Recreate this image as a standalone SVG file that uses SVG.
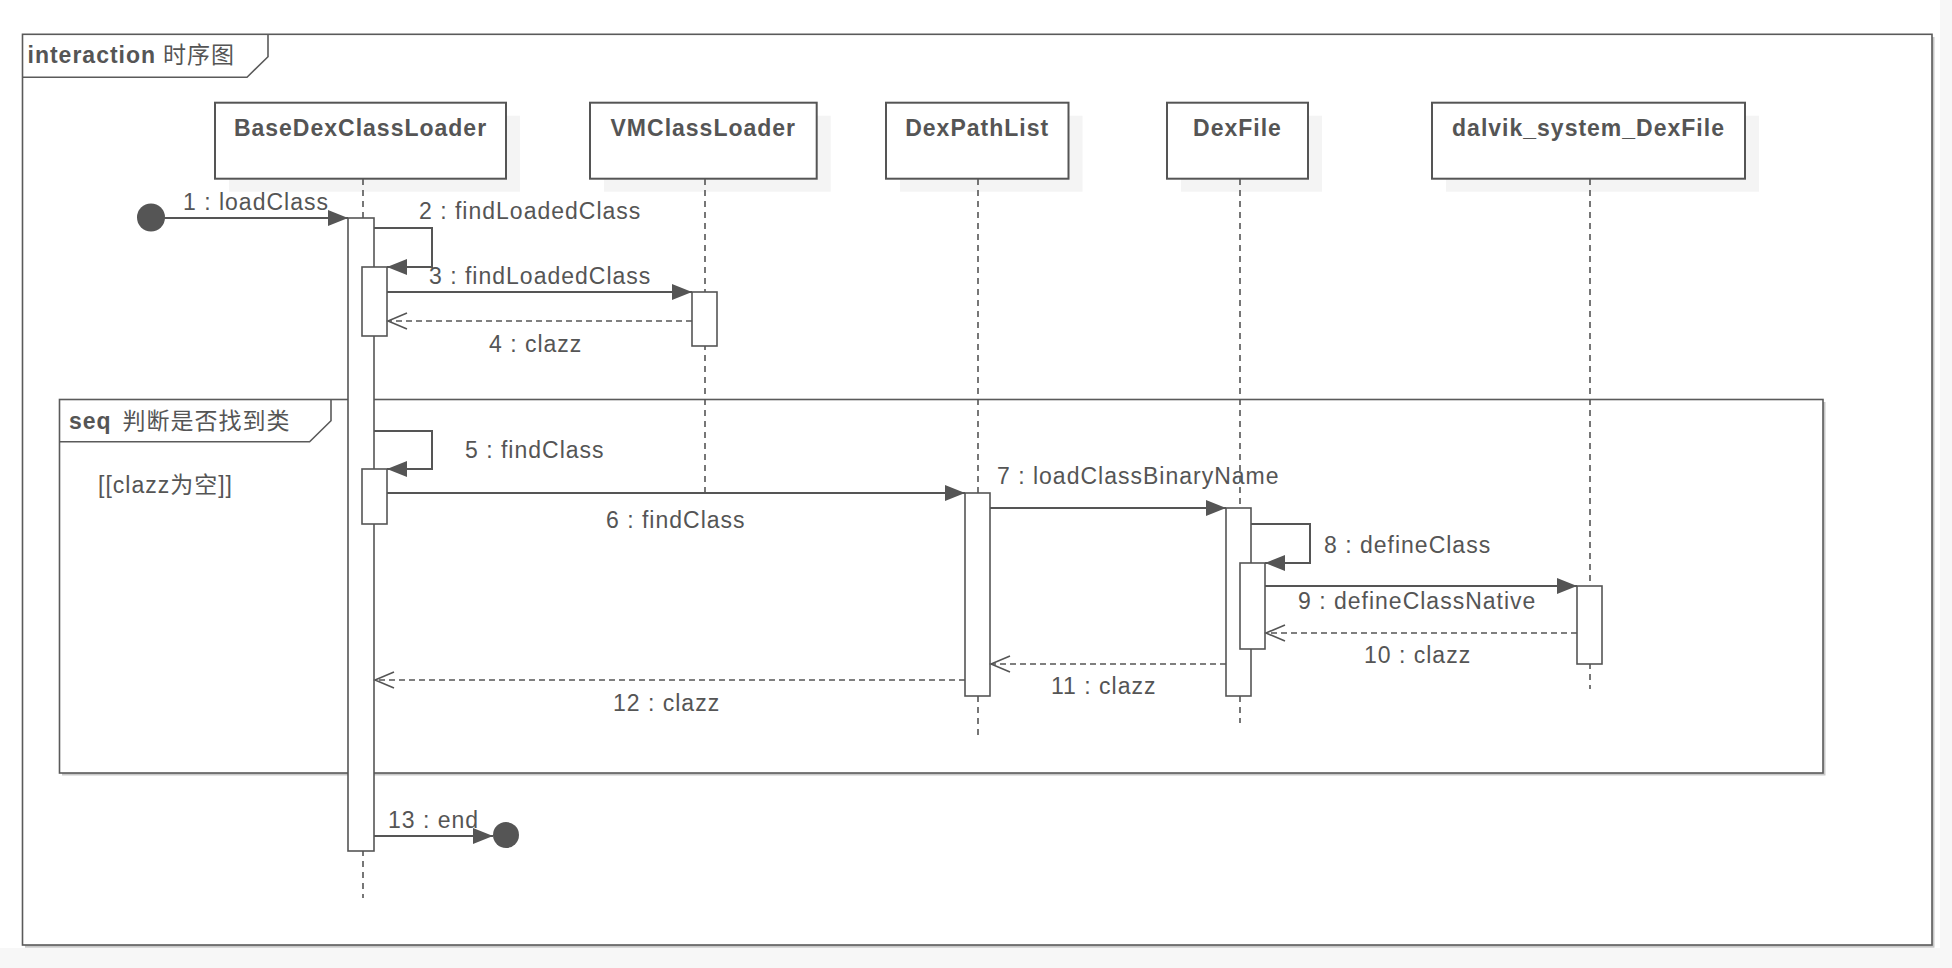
<svg xmlns="http://www.w3.org/2000/svg" width="1952" height="968" viewBox="0 0 1952 968">
<style>
  text { font-family: "Liberation Sans", "Noto Sans CJK SC", sans-serif; font-size: 23px; fill: #555; letter-spacing: 1px; }
  .b { font-weight: bold; }
  .t { font-weight: bold; text-anchor: middle; }
  .frame { fill: none; stroke: #5a5a5a; stroke-width: 1.6; }
  .framebox { fill: #fff; stroke: #5a5a5a; stroke-width: 1.6; }
  .fshadow { fill: #c8c8c8; stroke: none; }
  .box { fill: #fff; stroke: #555; stroke-width: 2; }
  .shadow { fill: #f4f4f4; stroke: none; }
  .life { stroke: #555; stroke-width: 1.6; stroke-dasharray: 6 5; fill: none; }
  .act { fill: #fff; stroke: #555; stroke-width: 1.6; }
  .msg { stroke: #555; stroke-width: 2; fill: none; marker-end: url(#filled); }
  .ret { stroke: #555; stroke-width: 1.6; fill: none; stroke-dasharray: 6 4; marker-end: url(#open); }
  .dot { fill: #555; }
</style>
<defs>
  <marker id="filled" markerUnits="userSpaceOnUse" markerWidth="21" markerHeight="17" refX="20" refY="8" orient="auto">
    <path d="M0,0 L20,8 L0,16 z" fill="#555"/>
  </marker>
  <marker id="open" markerUnits="userSpaceOnUse" markerWidth="22" markerHeight="20" refX="20" refY="9" orient="auto">
    <path d="M1,1 L20,9 L1,17" fill="none" stroke="#555" stroke-width="1.6"/>
  </marker>
</defs>
<rect x="0" y="0" width="1952" height="968" fill="#fff"/>
<rect x="0" y="948" width="1952" height="20" fill="#f7f7f7"/>
<rect x="1940" y="0" width="12" height="968" fill="#f7f7f7"/>

<g id="interaction-frame">
  <rect class="fshadow" x="25" y="37" width="1909.5" height="910.7"/>
  <rect class="framebox" x="22.5" y="34.3" width="1909.5" height="910.7"/>
  <path class="frame" d="M22.5,77.3 L247,77.3 L268,56.7 L268,34.3"/>
  <text x="27.5" y="63" class="b">interaction</text>
  <text x="163" y="63">时序图</text>
</g>

<g id="seq-fragment">
  <rect class="fshadow" x="62" y="402" width="1763.5" height="373.5"/>
  <rect class="framebox" x="59.5" y="399.5" width="1763.5" height="373.5"/>
  <path class="frame" d="M59.5,441.7 L309.6,441.7 L331,420.7 L331,399.5"/>
  <text x="69" y="429.3" class="b">seq</text>
  <text x="122.6" y="429.3">判断是否找到类</text>
  <text x="98" y="493.3">[[clazz为空]]</text>
</g>

<g id="BaseDexClassLoader">
  <rect class="shadow" x="229" y="115.7" width="291" height="76"/>
  <rect class="box" x="215" y="102.7" width="291" height="76"/>
  <text class="t" x="360.5" y="136">BaseDexClassLoader</text>
  <line class="life" x1="363" y1="179" x2="363" y2="898"/>
  <rect class="act" x="348" y="218" width="26" height="633"/>
  <rect class="act" x="362" y="267" width="25" height="69"/>
  <rect class="act" x="362" y="469" width="25" height="55"/>
</g>

<g id="VMClassLoader">
  <rect class="shadow" x="604" y="115.7" width="226.7" height="76"/>
  <rect class="box" x="590" y="102.7" width="226.7" height="76"/>
  <text class="t" x="703.3" y="136">VMClassLoader</text>
  <line class="life" x1="705" y1="179" x2="705" y2="492"/>
  <rect class="act" x="692" y="292" width="25" height="54"/>
</g>

<g id="DexPathList">
  <rect class="shadow" x="900" y="115.7" width="182.5" height="76"/>
  <rect class="box" x="886" y="102.7" width="182.5" height="76"/>
  <text class="t" x="977.2" y="136">DexPathList</text>
  <line class="life" x1="978" y1="179" x2="978" y2="736"/>
  <rect class="act" x="965" y="493" width="25" height="203"/>
</g>

<g id="DexFile">
  <rect class="shadow" x="1181" y="115.7" width="141" height="76"/>
  <rect class="box" x="1167" y="102.7" width="141" height="76"/>
  <text class="t" x="1237.5" y="136">DexFile</text>
  <line class="life" x1="1240" y1="179" x2="1240" y2="723"/>
  <rect class="act" x="1226" y="508" width="25" height="188"/>
  <rect class="act" x="1240" y="563" width="25" height="86"/>
</g>

<g id="dalvik_system_DexFile">
  <rect class="shadow" x="1446" y="115.7" width="313" height="76"/>
  <rect class="box" x="1432" y="102.7" width="313" height="76"/>
  <text class="t" x="1588.5" y="136">dalvik_system_DexFile</text>
  <line class="life" x1="1590" y1="179" x2="1590" y2="689"/>
  <rect class="act" x="1577" y="586" width="25" height="78"/>
</g>

<g id="start">
  <circle class="dot" cx="151" cy="217.5" r="14"/>
</g>
<g id="end">
  <circle class="dot" cx="506" cy="835" r="13"/>
</g>

<g id="connectors">
  <line class="msg" x1="151" y1="218" x2="348" y2="218"/>
  <text x="183" y="210">1 : loadClass</text>

  <polyline class="msg" points="374,228 432,228 432,267 387,267"/>
  <text x="419" y="219">2 : findLoadedClass</text>

  <line class="msg" x1="387" y1="292" x2="692" y2="292"/>
  <text x="429" y="284">3 : findLoadedClass</text>

  <line class="ret" x1="692" y1="321" x2="388" y2="321"/>
  <text x="489" y="352">4 : clazz</text>

  <polyline class="msg" points="374,431 432,431 432,469 387,469"/>
  <text x="465" y="458">5 : findClass</text>

  <line class="msg" x1="387" y1="493" x2="965" y2="493"/>
  <text x="606" y="528">6 : findClass</text>

  <line class="msg" x1="990" y1="508" x2="1226" y2="508"/>
  <text x="997" y="484">7 : loadClassBinaryName</text>

  <polyline class="msg" points="1251,524 1310,524 1310,563 1265,563"/>
  <text x="1324" y="553">8 : defineClass</text>

  <line class="msg" x1="1265" y1="586" x2="1577" y2="586"/>
  <text x="1298" y="609">9 : defineClassNative</text>

  <line class="ret" x1="1577" y1="633" x2="1266" y2="633"/>
  <text x="1364" y="663">10 : clazz</text>

  <line class="ret" x1="1226" y1="664" x2="991" y2="664"/>
  <text x="1051" y="694">11 : clazz</text>

  <line class="ret" x1="965" y1="680" x2="375" y2="680"/>
  <text x="613" y="711">12 : clazz</text>

  <line class="msg" x1="374" y1="836" x2="493" y2="836"/>
  <text x="388" y="828">13 : end</text>
</g>
</svg>
